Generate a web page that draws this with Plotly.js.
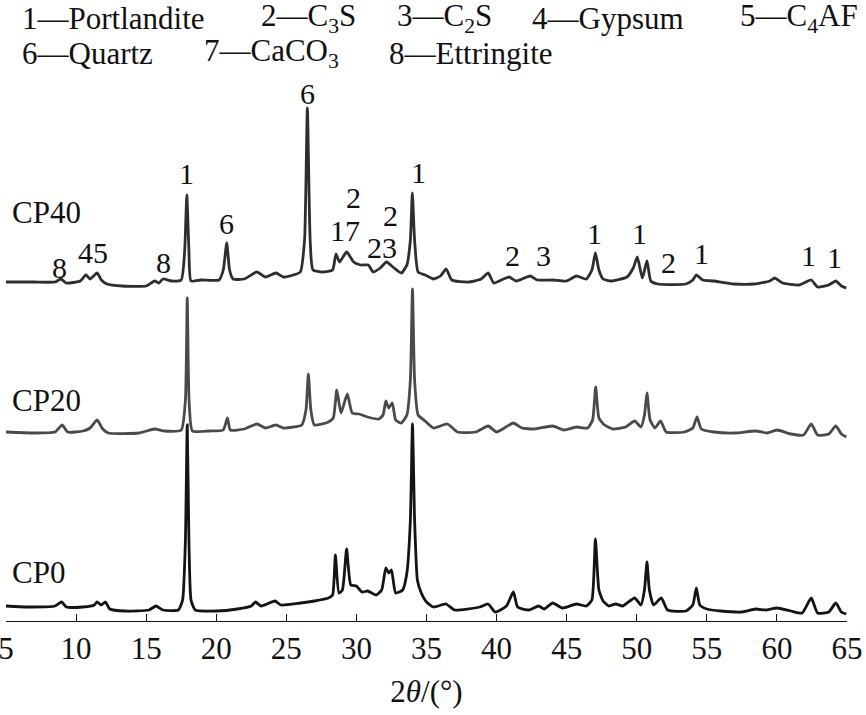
<!DOCTYPE html>
<html>
<head>
<meta charset="utf-8">
<script src="https://cdn.plot.ly/plotly-3.0.1.min.js"></script>
<style>
html,body{margin:0;padding:0;background:#fff;}
#chart{width:866px;height:715px;}
</style>
</head>
<body>
<div id="chart"></div>
<script>
// 2θ (°) vs. intensity (a.u., stacked as displayed)
const cp0 = [[5,15],[6.5,14],[8.5,15],[8.97,19],[9.3,14],[10.5,14],[11.3,16],[11.5,19],[11.8,16],[12.1,19],[12.4,12],[13.5,10],[15.2,11],[15.7,15],[16.2,11],[17.3,11],[17.6,21],[17.8,81],[17.93,196],[18.05,81],[18.2,21],[18.5,11],[20,10],[21.5,12],[22.5,15],[22.8,19],[23.2,15],[24.2,20],[24.6,16],[26,18],[27,20],[28,23],[28.3,26],[28.5,66],[28.75,28],[29,31],[29.3,72],[29.6,36],[30,35],[30.4,29],[30.8,30],[31.4,26],[31.8,31],[32.1,53],[32.3,48],[32.5,51],[32.8,28],[33.3,31],[33.6,48],[33.85,101],[34,197],[34.15,101],[34.35,41],[34.6,29],[35,19],[35.5,14],[36.4,17],[37,11],[38.8,14],[39.4,17],[39.9,9],[40.7,15],[41.2,29],[41.5,14],[42.3,11],[43,15],[43.4,12],[44,18],[44.7,13],[45.7,17],[46.4,15],[46.8,21],[47.05,82],[47.3,31],[47.6,20],[48,15],[48.5,17],[49,15],[49.85,23],[50.3,16],[50.55,31],[50.73,59],[50.9,31],[51.2,16],[51.75,23],[52.2,11],[53.5,10],[54,16],[54.25,33],[54.5,16],[55,12],[56,10],[57.5,9],[58.5,12],[59.2,11],[60,13],[61,10],[61.8,8],[62.45,23],[62.9,8],[63.7,9],[64.2,18],[64.6,9],[64.95,7]];

const cp20 = [[5,189],[7,188],[8.5,189],[9,196],[9.4,189],[10.5,190],[11,193],[11.5,201],[11.9,192],[12.3,188],[14.5,188],[15.6,192],[16.3,190],[17.5,191],[17.8,221],[17.93,323],[18.06,221],[18.3,190],[19.5,190],[20.5,191],[20.8,203],[21,191],[22,192],[22.9,197],[23.5,193],[24.26,196],[24.8,193],[26.1,196],[26.4,211],[26.57,247],[26.75,211],[27,196],[28,199],[28.35,203],[28.6,231],[28.9,208],[29.35,227],[29.7,208],[30.2,207],[30.8,204],[31.6,202],[31.9,206],[32.1,220],[32.3,213],[32.56,218],[32.8,201],[33.2,198],[33.6,206],[33.85,241],[34,332],[34.15,241],[34.4,206],[34.9,200],[35.5,193],[36.5,197],[37.2,189],[38.5,189],[39.4,195],[40,189],[41.2,198],[41.8,193],[42.7,192],[44,195],[44.8,191],[45.7,194],[46.5,193],[46.85,201],[47.07,234],[47.3,203],[47.7,196],[48.3,192],[49.2,194],[49.85,200],[50.3,194],[50.55,206],[50.73,228],[50.95,201],[51.3,193],[51.7,200],[52.1,189],[53.4,189],[54,193],[54.3,204],[54.6,192],[55.5,189],[57,188],[58.5,190],[59.3,188],[60,191],[61,187],[61.9,186],[62.45,197],[62.9,186],[63.7,187],[64.2,195],[64.6,187],[64.95,184]];

const cp40 = [[5,339],[7,339],[8.5,339],[8.92,342],[9.3,338],[10.3,340],[10.7,346],[11,342],[11.5,348],[11.8,341],[12.2,337],[13.3,335],[15,335],[15.6,340],[15.9,338],[16.2,342],[16.8,340],[17.5,341],[17.75,371],[17.9,426],[18.05,371],[18.2,340],[18.9,341],[20.2,341],[20.5,351],[20.75,378],[20.95,351],[21.2,342],[22,342],[22.9,349],[23.5,344],[24.26,348],[24.8,344],[25.5,346],[26,349],[26.3,381],[26.5,513],[26.7,381],[26.9,351],[27.6,349],[28.3,351],[28.54,367],[28.8,359],[29.3,369],[29.8,359],[30.3,356],[30.85,356],[31.2,349],[31.7,353],[32.15,359],[32.6,354],[33.2,348],[33.6,356],[33.85,381],[33.99,428],[34.15,381],[34.4,349],[34.9,346],[35.5,342],[36,345],[36.4,352],[36.8,341],[38,339],[38.9,342],[39.4,348],[39.8,338],[40.5,342],[40.9,344],[41.4,340],[42.4,345],[42.9,341],[44,341],[45,340],[45.7,345],[46.4,342],[46.8,351],[47.05,368],[47.3,351],[47.6,342],[48.2,340],[49.3,344],[49.75,353],[50.04,364],[50.4,343],[50.73,360],[51,340],[51.5,337],[53.5,337],[54,341],[54.25,346],[54.7,341],[55.5,340],[56.9,337],[58.4,337],[59.5,340],[59.84,343],[60.4,338],[61.6,336],[62.45,341],[62.9,334],[63.7,336],[64.2,340],[64.6,335],[64.95,333]];

const sampleNames = ['CP0', 'CP20', 'CP40'];
const sampleLabelY = [49, 221, 409];
const phaseKey = [
  ['1—Portlandite', '2—C<sub>3</sub>S', '3—C<sub>2</sub>S', '4—Gypsum', '5—C<sub>4</sub>AF'],
  ['6—Quartz', '7—CaCO<sub>3</sub>', '8—Ettringite']
];
// peak labels: [2θ, height, text]
const peakLabels = [[8.85,354,'8'],[11.23,369,'45'],[16.22,359,'8'],[17.89,448,'1'],[20.75,398,'6'],[26.5,528,'6'],[29.19,391,'17'],[29.78,424,'2'],[31.8,374,'23'],[32.4,406,'2'],[34.41,449,'1'],[41.12,366,'2'],[43.38,366,'3'],[47.0,388,'1'],[50.21,388,'1'],[52.28,359,'2'],[54.6,368,'1'],[62.22,366,'1'],[64.12,364,'1']];
const xTicks = [5,10,15,20,25,30,35,40,45,50,55,60,65];

const FAM = 'Times New Roman';
const colors = ['#141414', '#4a4a4a', '#2e2e2e'];
const series = [cp0, cp20, cp40];

const traces = series.map((s, i) => ({
  x: s.map(p => p[0]),
  y: s.map(p => p[1]),
  type: 'scatter', mode: 'lines',
  line: {color: colors[i], width: 2.8, shape: 'spline', smoothing: 0.5},
  name: sampleNames[i], showlegend: false, hoverinfo: 'skip'
}));
const ordered = [traces[0], traces[2], traces[1]];

const annotations = [];
sampleNames.forEach((n, i) => annotations.push({
  x: 5.3, y: sampleLabelY[i], xref: 'x', yref: 'y', text: n, showarrow: false,
  xanchor: 'left', yanchor: 'middle', font: {family: FAM, size: 31, color: '#111'}
}));
peakLabels.forEach(p => annotations.push({
  x: p[0], y: p[1], xref: 'x', yref: 'y', text: p[2], showarrow: false,
  xanchor: 'center', yanchor: 'middle', font: {family: FAM, size: 30, color: '#111'}
}));
const keyX = [[6.05, 23.12, 32.82, 42.49, 57.29], [6.05, 19.05, 32.22]];
const keyY = [603, 568];
phaseKey.forEach((row, r) => row.forEach((t, k) => annotations.push({
  x: keyX[r][k], y: keyY[r], xref: 'x', yref: 'y', text: t, showarrow: false, borderpad: 0,
  xanchor: 'left', yanchor: 'middle', font: {family: FAM, size: 31, color: '#111'}
})));

const layout = {
  width: 866, height: 715,
  margin: {l: 6, r: 19, t: 0, b: 94, pad: 0},
  paper_bgcolor: '#fff', plot_bgcolor: '#fff',
  showlegend: false,
  font: {family: FAM, color: '#111'},
  xaxis: {
    range: [5, 65], tickvals: xTicks, ticktext: xTicks.map(String),
    ticks: 'inside', ticklen: 7, tickwidth: 1, tickcolor: '#111',
    showline: true, linecolor: '#111', linewidth: 1.2, mirror: false,
    showgrid: false, zeroline: false, ticklabeloverflow: 'allow',
    tickfont: {family: FAM, size: 31, color: '#111'},
    title: {text: '2<i>θ</i>/(°)', font: {family: FAM, size: 31, color: '#111'}, standoff: 14},
    automargin: false
  },
  yaxis: {range: [0, 621], visible: false, showgrid: false, zeroline: false, fixedrange: true},
  annotations: annotations
};

Plotly.newPlot('chart', ordered, layout, {displayModeBar: false, staticPlot: true});
</script>
</body>
</html>
